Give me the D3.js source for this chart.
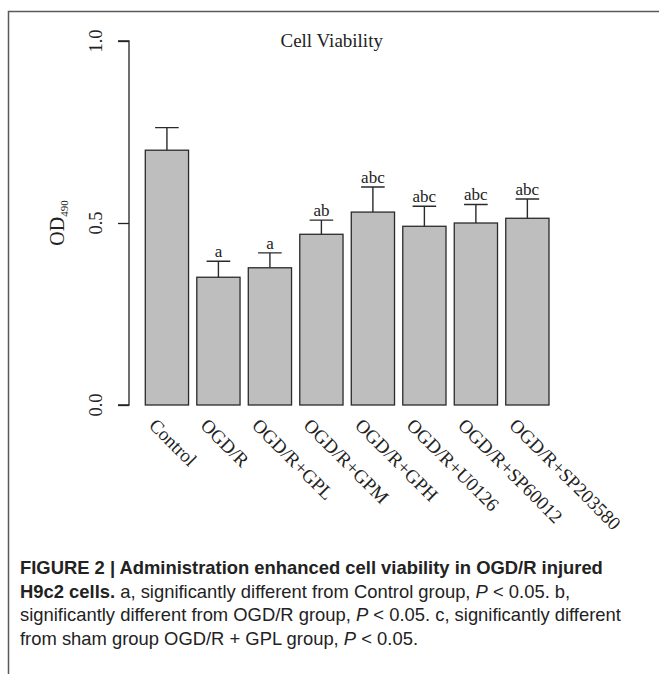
<!DOCTYPE html>
<html>
<head>
<meta charset="utf-8">
<script src="https://cdn.jsdelivr.net/npm/d3@7/dist/d3.min.js"></script>
<style>
  html, body { margin: 0; padding: 0; background: #fff; }
  svg { display: block; }
</style>
</head>
<body>
<script>
// Group names, mean OD490 values, error (SD) and significance letters
const categories = ["Control", "OGD/R", "OGD/R+GPL", "OGD/R+GPM", "OGD/R+GPH",
                    "OGD/R+U0126", "OGD/R+SP60012", "OGD/R+SP203580"];
const means  = [0.700, 0.351, 0.377, 0.469, 0.530, 0.491, 0.500, 0.513];
const errors = [0.062, 0.044, 0.041, 0.039, 0.069, 0.055, 0.051, 0.053];
const letters = ["", "a", "a", "ab", "abc", "abc", "abc", "abc"];
const yTicks = [0.0, 0.5, 1.0];
const title = "Cell Viability";

const W = 659, H = 674;
const serif = "'Liberation Serif', 'Times New Roman', serif";
const sans = "'Liberation Sans', Arial, Helvetica, sans-serif";

const svg = d3.select("body").append("svg")
  .attr("width", W).attr("height", H);

// Figure frame (top and left rules)
svg.append("path")
  .attr("d", `M8.5,${H} V11.5 H${W}`)
  .attr("fill", "none").attr("stroke", "#5a5a5a").attr("stroke-width", 1.5);

// Scales
const x = d3.scaleBand()
  .domain(categories)
  .range([145.3, 549])
  .paddingInner(0.16)
  .paddingOuter(0);

const y = d3.scaleLinear().domain([0, 1]).range([405, 41]);

// Y axis
const axisX = 129;
const yAxis = d3.axisLeft(y).tickValues(yTicks).tickSize(11).tickFormat(() => "");
const gy = svg.append("g").attr("transform", `translate(${axisX},0)`).call(yAxis);
gy.select(".domain").attr("stroke", "#222").attr("stroke-width", 1.3)
  .attr("d", `M-11,${y(0)}H0V${y(1)}H-11`);
gy.selectAll(".tick line").attr("stroke", "#222").attr("stroke-width", 1.3);

svg.append("g").selectAll("text")
  .data(yTicks).join("text")
  .attr("transform", d => `translate(102,${y(d)}) rotate(-90)`)
  .attr("text-anchor", "middle")
  .attr("font-family", serif).attr("font-size", 18.5).attr("fill", "#222")
  .text(d => d3.format(".1f")(d));

// Y axis title: OD with subscript 490
const yl = svg.append("text")
  .attr("transform", `translate(63.5,${(y(0) + y(1)) / 2}) rotate(-90)`)
  .attr("text-anchor", "middle")
  .attr("font-family", serif).attr("font-size", 20).attr("fill", "#222");
yl.append("tspan").text("OD");
yl.append("tspan").attr("font-size", 11).attr("dy", 4).text("490");

// Title
svg.append("text")
  .attr("x", 331.7).attr("y", 46.5)
  .attr("text-anchor", "middle")
  .attr("font-family", serif).attr("font-size", 19).attr("fill", "#222")
  .text(title);

const data = categories.map((c, i) => ({ c, m: means[i], e: errors[i], l: letters[i] }));

// Bars
svg.append("g").selectAll("rect")
  .data(data).join("rect")
  .attr("x", d => x(d.c))
  .attr("y", d => y(d.m))
  .attr("width", x.bandwidth())
  .attr("height", d => y(0) - y(d.m))
  .attr("fill", "#bebebe")
  .attr("stroke", "#2a2a2a").attr("stroke-width", 1.3);

// Error bars (upper whisker with cap)
const capHalf = 11.8;
const eb = svg.append("g").attr("stroke", "#2a2a2a").attr("stroke-width", 1.4).attr("fill", "none");
eb.selectAll("path")
  .data(data).join("path")
  .attr("d", d => {
    const cx = x(d.c) + x.bandwidth() / 2;
    const top = y(d.m + d.e);
    return `M${cx},${y(d.m)}V${top}M${cx - capHalf},${top}H${cx + capHalf}`;
  });

// Significance letters
svg.append("g").selectAll("text")
  .data(data.filter(d => d.l)).join("text")
  .attr("x", d => x(d.c) + x.bandwidth() / 2)
  .attr("y", d => y(d.m + d.e) - 4)
  .attr("text-anchor", "middle")
  .attr("font-family", serif).attr("font-size", 17).attr("fill", "#222")
  .text(d => d.l);

// Rotated category labels
svg.append("g").selectAll("text")
  .data(categories).join("text")
  .attr("transform", c => `translate(${x(c) + x.bandwidth() / 2 - 19},426.5) rotate(45)`)
  .attr("text-anchor", "start")
  .attr("font-family", serif).attr("font-size", 19).attr("fill", "#222")
  .text(c => c);

// Figure caption
const cap = svg.append("g").attr("font-family", sans).attr("font-size", 18.4).attr("fill", "#222");
cap.append("text").attr("x", 20).attr("y", 574).attr("font-weight", "bold")
  .text("FIGURE 2 | Administration enhanced cell viability in OGD/R injured");

const l2 = cap.append("text").attr("x", 20).attr("y", 597.5);
l2.append("tspan").attr("font-weight", "bold").text("H9c2 cells.");
l2.append("tspan").text(" a, significantly different from Control group, ");
l2.append("tspan").attr("font-style", "italic").text("P");
l2.append("tspan").text(" < 0.05. b,");

const l3 = cap.append("text").attr("x", 20).attr("y", 621);
l3.append("tspan").text("significantly different from OGD/R group, ");
l3.append("tspan").attr("font-style", "italic").text("P");
l3.append("tspan").text(" < 0.05. c, significantly different");

const l4 = cap.append("text").attr("x", 20).attr("y", 644.5);
l4.append("tspan").text("from sham group OGD/R + GPL group, ");
l4.append("tspan").attr("font-style", "italic").text("P");
l4.append("tspan").text(" < 0.05.");
</script>
</body>
</html>
